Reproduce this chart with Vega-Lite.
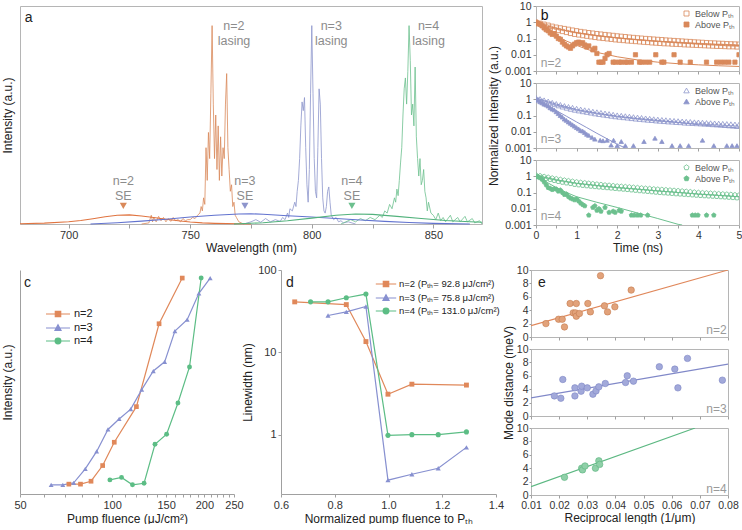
{
"$schema": "https://vega.github.io/schema/vega-lite/v6.json",
"padding": 0,
"background": "white",
"config": {
  "font": "Liberation Sans",
  "view": {"stroke": "#b5b5b5", "strokeWidth": 1},
  "axis": {"labelFontSize": 11, "labelColor": "#333", "titleFontSize": 12, "titleFontWeight": "normal", "titleColor": "#222", "domainColor": "#a0a0a0", "tickColor": "#a0a0a0", "grid": false, "tickSize": 3, "labelPadding": 2, "labelFlush": false, "labelOverlap": false},
  "legend": {"padding": 0}
},
"datasets": {
  "las": [
    {"n":"2","w":730,"i":0},{"n":"2","w":733,"i":0.005},{"n":"2","w":734,"i":0.04},{"n":"2","w":734.5,"i":0.01},{"n":"2","w":735,"i":0.03},{"n":"2","w":736,"i":0.01},{"n":"2","w":737,"i":0.035},{"n":"2","w":738,"i":0.015},{"n":"2","w":739,"i":0.03},{"n":"2","w":740,"i":0.01},{"n":"2","w":741,"i":0.025},{"n":"2","w":742,"i":0.012},{"n":"2","w":743,"i":0.03},{"n":"2","w":744,"i":0.015},{"n":"2","w":745,"i":0.02},{"n":"2","w":746,"i":0.01},{"n":"2","w":747,"i":0.025},{"n":"2","w":748,"i":0.015},{"n":"2","w":749,"i":0.02},{"n":"2","w":750,"i":0.02},{"n":"2","w":751,"i":0.03},{"n":"2","w":752,"i":0.025},{"n":"2","w":753,"i":0.04},{"n":"2","w":754,"i":0.05},{"n":"2","w":754.5,"i":0.08},{"n":"2","w":755,"i":0.06},{"n":"2","w":755.5,"i":0.12},{"n":"2","w":756,"i":0.09},{"n":"2","w":756.5,"i":0.35},{"n":"2","w":757,"i":0.2},{"n":"2","w":757.5,"i":0.42},{"n":"2","w":758,"i":0.3},{"n":"2","w":758.5,"i":0.6},{"n":"2","w":759,"i":0.91},{"n":"2","w":759.5,"i":0.55},{"n":"2","w":760,"i":0.3},{"n":"2","w":760.5,"i":0.5},{"n":"2","w":761,"i":0.25},{"n":"2","w":761.5,"i":0.45},{"n":"2","w":762,"i":0.2},{"n":"2","w":762.5,"i":0.4},{"n":"2","w":763,"i":0.22},{"n":"2","w":763.5,"i":0.35},{"n":"2","w":764,"i":0.3},{"n":"2","w":764.5,"i":0.55},{"n":"2","w":765,"i":0.69},{"n":"2","w":765.5,"i":0.35},{"n":"2","w":766,"i":0.25},{"n":"2","w":766.5,"i":0.15},{"n":"2","w":767,"i":0.18},{"n":"2","w":767.5,"i":0.08},{"n":"2","w":768,"i":0.1},{"n":"2","w":768.5,"i":0.04},{"n":"2","w":769,"i":0.03},{"n":"2","w":770,"i":0.01},{"n":"2","w":771,"i":0.005},{"n":"2","w":772,"i":0},
    {"n":"3","w":772,"i":0},{"n":"3","w":775,"i":0.01},{"n":"3","w":777,"i":0.02},{"n":"3","w":779,"i":0.008},{"n":"3","w":781,"i":0.025},{"n":"3","w":783,"i":0.01},{"n":"3","w":785,"i":0.02},{"n":"3","w":787,"i":0.012},{"n":"3","w":788,"i":0.03},{"n":"3","w":789,"i":0.02},{"n":"3","w":790,"i":0.05},{"n":"3","w":790.5,"i":0.03},{"n":"3","w":791,"i":0.07},{"n":"3","w":792,"i":0.06},{"n":"3","w":793,"i":0.1},{"n":"3","w":793.5,"i":0.08},{"n":"3","w":794,"i":0.15},{"n":"3","w":794.5,"i":0.2},{"n":"3","w":795,"i":0.3},{"n":"3","w":795.5,"i":0.45},{"n":"3","w":796,"i":0.56},{"n":"3","w":796.5,"i":0.52},{"n":"3","w":797,"i":0.58},{"n":"3","w":797.5,"i":0.35},{"n":"3","w":798,"i":0.18},{"n":"3","w":798.5,"i":0.1},{"n":"3","w":799,"i":0.25},{"n":"3","w":799.5,"i":0.6},{"n":"3","w":800,"i":0.91},{"n":"3","w":800.5,"i":0.6},{"n":"3","w":801,"i":0.3},{"n":"3","w":801.5,"i":0.15},{"n":"3","w":802,"i":0.12},{"n":"3","w":802.5,"i":0.35},{"n":"3","w":803,"i":0.62},{"n":"3","w":803.5,"i":0.55},{"n":"3","w":804,"i":0.3},{"n":"3","w":804.5,"i":0.12},{"n":"3","w":805,"i":0.06},{"n":"3","w":805.5,"i":0.05},{"n":"3","w":806,"i":0.08},{"n":"3","w":806.5,"i":0.15},{"n":"3","w":807,"i":0.17},{"n":"3","w":807.5,"i":0.1},{"n":"3","w":808,"i":0.04},{"n":"3","w":809,"i":0.02},{"n":"3","w":810,"i":0.03},{"n":"3","w":811,"i":0.01},{"n":"3","w":812,"i":0.015},{"n":"3","w":813,"i":0.005},{"n":"3","w":815,"i":0.01},{"n":"3","w":818,"i":0},
    {"n":"4","w":812,"i":0},{"n":"4","w":814,"i":0.01},{"n":"4","w":816,"i":0.02},{"n":"4","w":818,"i":0.01},{"n":"4","w":820,"i":0.025},{"n":"4","w":822,"i":0.015},{"n":"4","w":824,"i":0.03},{"n":"4","w":826,"i":0.02},{"n":"4","w":828,"i":0.04},{"n":"4","w":829,"i":0.03},{"n":"4","w":830,"i":0.06},{"n":"4","w":831,"i":0.05},{"n":"4","w":832,"i":0.09},{"n":"4","w":833,"i":0.07},{"n":"4","w":834,"i":0.12},{"n":"4","w":834.5,"i":0.1},{"n":"4","w":835,"i":0.16},{"n":"4","w":835.5,"i":0.13},{"n":"4","w":836,"i":0.2},{"n":"4","w":836.5,"i":0.28},{"n":"4","w":837,"i":0.35},{"n":"4","w":837.5,"i":0.5},{"n":"4","w":838,"i":0.62},{"n":"4","w":838.5,"i":0.67},{"n":"4","w":839,"i":0.55},{"n":"4","w":839.5,"i":0.7},{"n":"4","w":840,"i":0.91},{"n":"4","w":840.5,"i":0.75},{"n":"4","w":841,"i":0.5},{"n":"4","w":841.5,"i":0.55},{"n":"4","w":842,"i":0.45},{"n":"4","w":842.5,"i":0.72},{"n":"4","w":843,"i":0.4},{"n":"4","w":843.5,"i":0.3},{"n":"4","w":844,"i":0.22},{"n":"4","w":844.5,"i":0.3},{"n":"4","w":845,"i":0.18},{"n":"4","w":845.5,"i":0.2},{"n":"4","w":846,"i":0.25},{"n":"4","w":846.5,"i":0.15},{"n":"4","w":847,"i":0.12},{"n":"4","w":847.5,"i":0.06},{"n":"4","w":848,"i":0.1},{"n":"4","w":849,"i":0.05},{"n":"4","w":850,"i":0.04},{"n":"4","w":851,"i":0.02},{"n":"4","w":852,"i":0.05},{"n":"4","w":853,"i":0.015},{"n":"4","w":854,"i":0.03},{"n":"4","w":855,"i":0.01},{"n":"4","w":857,"i":0.04},{"n":"4","w":858,"i":0.01},{"n":"4","w":860,"i":0.03},{"n":"4","w":861,"i":0.01},{"n":"4","w":863,"i":0.035},{"n":"4","w":864,"i":0.01},{"n":"4","w":866,"i":0.025},{"n":"4","w":867,"i":0.005},{"n":"4","w":869,"i":0.015},{"n":"4","w":870,"i":0}
  ],
  "se": [
    {"n":"2","w":680,"i":0.001},{"n":"2","w":690,"i":0.004},{"n":"2","w":700,"i":0.01},{"n":"2","w":705,"i":0.016},{"n":"2","w":710,"i":0.024},{"n":"2","w":715,"i":0.033},{"n":"2","w":720,"i":0.04},{"n":"2","w":725,"i":0.042},{"n":"2","w":730,"i":0.037},{"n":"2","w":735,"i":0.03},{"n":"2","w":740,"i":0.022},{"n":"2","w":745,"i":0.015},{"n":"2","w":750,"i":0.009},{"n":"2","w":755,"i":0.005},{"n":"2","w":760,"i":0.003},{"n":"2","w":770,"i":0.001},{"n":"2","w":775,"i":0},
    {"n":"3","w":709,"i":0},{"n":"3","w":720,"i":0.006},{"n":"3","w":730,"i":0.013},{"n":"3","w":740,"i":0.022},{"n":"3","w":750,"i":0.032},{"n":"3","w":760,"i":0.04},{"n":"3","w":770,"i":0.046},{"n":"3","w":775,"i":0.047},{"n":"3","w":780,"i":0.045},{"n":"3","w":790,"i":0.038},{"n":"3","w":800,"i":0.032},{"n":"3","w":810,"i":0.025},{"n":"3","w":820,"i":0.018},{"n":"3","w":830,"i":0.012},{"n":"3","w":840,"i":0.007},{"n":"3","w":850,"i":0.003},{"n":"3","w":865,"i":0},
    {"n":"4","w":768,"i":0},{"n":"4","w":780,"i":0.006},{"n":"4","w":790,"i":0.015},{"n":"4","w":800,"i":0.027},{"n":"4","w":810,"i":0.04},{"n":"4","w":818,"i":0.046},{"n":"4","w":825,"i":0.044},{"n":"4","w":835,"i":0.035},{"n":"4","w":845,"i":0.025},{"n":"4","w":855,"i":0.016},{"n":"4","w":865,"i":0.01},{"n":"4","w":870,"i":0.008}
  ],
  "triA": [{"n":"2","w":722.5,"i":0.083},{"n":"3","w":772.5,"i":0.083},{"n":"4","w":816.5,"i":0.083}],
  "annA": [
    {"w":768,"i":0.908,"t":"n=2\nlasing"},{"w":808,"i":0.908,"t":"n=3\nlasing"},{"w":848,"i":0.908,"t":"n=4\nlasing"},
    {"w":722.5,"i":0.197,"t":"n=2\nSE"},{"w":772.5,"i":0.197,"t":"n=3\nSE"},{"w":816.5,"i":0.197,"t":"n=4\nSE"}
  ],
  "b2": [
    {"s":"B","t":0,"v":1},{"s":"B","t":0.1,"v":0.87},{"s":"B","t":0.2,"v":0.76},{"s":"B","t":0.3,"v":0.66},{"s":"B","t":0.4,"v":0.57},{"s":"B","t":0.5,"v":0.5},{"s":"B","t":0.6,"v":0.45},{"s":"B","t":0.7,"v":0.41},{"s":"B","t":0.8,"v":0.37},{"s":"B","t":0.9,"v":0.33},{"s":"B","t":1,"v":0.3},{"s":"B","t":1.1,"v":0.27},{"s":"B","t":1.2,"v":0.25},{"s":"B","t":1.3,"v":0.23},{"s":"B","t":1.4,"v":0.215},{"s":"B","t":1.5,"v":0.2},{"s":"B","t":1.6,"v":0.187},{"s":"B","t":1.7,"v":0.175},{"s":"B","t":1.8,"v":0.165},{"s":"B","t":1.9,"v":0.155},{"s":"B","t":2,"v":0.145},{"s":"B","t":2.1,"v":0.137},{"s":"B","t":2.2,"v":0.13},{"s":"B","t":2.3,"v":0.122},{"s":"B","t":2.4,"v":0.116},{"s":"B","t":2.5,"v":0.11},{"s":"B","t":2.6,"v":0.105},{"s":"B","t":2.7,"v":0.1},{"s":"B","t":2.8,"v":0.096},{"s":"B","t":2.9,"v":0.092},{"s":"B","t":3,"v":0.088},{"s":"B","t":3.1,"v":0.085},{"s":"B","t":3.2,"v":0.081},{"s":"B","t":3.3,"v":0.078},{"s":"B","t":3.4,"v":0.075},{"s":"B","t":3.5,"v":0.072},{"s":"B","t":3.6,"v":0.07},{"s":"B","t":3.7,"v":0.067},{"s":"B","t":3.8,"v":0.065},{"s":"B","t":3.9,"v":0.062},{"s":"B","t":4,"v":0.06},{"s":"B","t":4.1,"v":0.058},{"s":"B","t":4.2,"v":0.056},{"s":"B","t":4.3,"v":0.054},{"s":"B","t":4.4,"v":0.053},{"s":"B","t":4.5,"v":0.051},{"s":"B","t":4.6,"v":0.05},{"s":"B","t":4.7,"v":0.048},{"s":"B","t":4.8,"v":0.047},{"s":"B","t":4.9,"v":0.046},{"s":"B","t":5,"v":0.045},
    {"s":"B","t":0.05,"v":0.8},{"s":"B","t":0.15,"v":0.65},{"s":"B","t":0.25,"v":0.52},{"s":"B","t":0.35,"v":0.43},{"s":"B","t":0.45,"v":0.36},{"s":"B","t":0.55,"v":0.31},{"s":"B","t":0.65,"v":0.27},{"s":"B","t":0.75,"v":0.235},{"s":"B","t":0.85,"v":0.205},{"s":"B","t":0.95,"v":0.18},{"s":"B","t":1.05,"v":0.165},{"s":"B","t":1.15,"v":0.15},{"s":"B","t":1.25,"v":0.138},{"s":"B","t":1.35,"v":0.127},{"s":"B","t":1.45,"v":0.116},{"s":"B","t":1.55,"v":0.108},{"s":"B","t":1.65,"v":0.101},{"s":"B","t":1.75,"v":0.095},{"s":"B","t":1.85,"v":0.089},{"s":"B","t":1.95,"v":0.083},{"s":"B","t":2.05,"v":0.079},{"s":"B","t":2.15,"v":0.075},{"s":"B","t":2.25,"v":0.071},{"s":"B","t":2.35,"v":0.068},{"s":"B","t":2.45,"v":0.065},{"s":"B","t":2.55,"v":0.062},{"s":"B","t":2.65,"v":0.059},{"s":"B","t":2.75,"v":0.057},{"s":"B","t":2.85,"v":0.054},{"s":"B","t":2.95,"v":0.052},{"s":"B","t":3.05,"v":0.05},{"s":"B","t":3.15,"v":0.048},{"s":"B","t":3.25,"v":0.047},{"s":"B","t":3.35,"v":0.045},{"s":"B","t":3.45,"v":0.044},{"s":"B","t":3.55,"v":0.043},{"s":"B","t":3.65,"v":0.041},{"s":"B","t":3.75,"v":0.04},{"s":"B","t":3.85,"v":0.039},{"s":"B","t":3.95,"v":0.038},{"s":"B","t":4.05,"v":0.037},{"s":"B","t":4.15,"v":0.036},{"s":"B","t":4.25,"v":0.035},{"s":"B","t":4.35,"v":0.034},{"s":"B","t":4.45,"v":0.033},{"s":"B","t":4.55,"v":0.033},{"s":"B","t":4.65,"v":0.032},{"s":"B","t":4.75,"v":0.031},{"s":"B","t":4.85,"v":0.031},{"s":"B","t":4.95,"v":0.03},
    {"s":"A","t":0,"v":1},{"s":"A","t":0.05,"v":0.85},{"s":"A","t":0.1,"v":0.75},{"s":"A","t":0.15,"v":0.6},{"s":"A","t":0.2,"v":0.45},{"s":"A","t":0.25,"v":0.35},{"s":"A","t":0.3,"v":0.3},{"s":"A","t":0.35,"v":0.22},{"s":"A","t":0.4,"v":0.18},{"s":"A","t":0.45,"v":0.2},{"s":"A","t":0.5,"v":0.14},{"s":"A","t":0.55,"v":0.1},{"s":"A","t":0.6,"v":0.09},{"s":"A","t":0.65,"v":0.06},{"s":"A","t":0.7,"v":0.045},{"s":"A","t":0.75,"v":0.035},{"s":"A","t":0.8,"v":0.03},{"s":"A","t":0.85,"v":0.025},{"s":"A","t":0.9,"v":0.035},{"s":"A","t":0.95,"v":0.045},{"s":"A","t":1,"v":0.055},{"s":"A","t":1.05,"v":0.06},{"s":"A","t":1.1,"v":0.05},{"s":"A","t":1.15,"v":0.055},{"s":"A","t":1.2,"v":0.04},{"s":"A","t":1.25,"v":0.03},{"s":"A","t":1.3,"v":0.035},{"s":"A","t":1.4,"v":0.02},{"s":"A","t":1.45,"v":0.025},{"s":"A","t":1.5,"v":0.012},{"s":"A","t":1.55,"v":0.0035},{"s":"A","t":1.6,"v":0.0035},{"s":"A","t":1.65,"v":0.0035},{"s":"A","t":1.7,"v":0.006},{"s":"A","t":1.75,"v":0.01},{"s":"A","t":1.8,"v":0.012},{"s":"A","t":1.9,"v":0.0035},{"s":"A","t":1.95,"v":0.0035},{"s":"A","t":2.05,"v":0.0035},{"s":"A","t":2.1,"v":0.0035},{"s":"A","t":2.2,"v":0.0035},{"s":"A","t":2.25,"v":0.0035},{"s":"A","t":2.35,"v":0.0035},{"s":"A","t":2.45,"v":0.01},{"s":"A","t":2.55,"v":0.0035},{"s":"A","t":2.6,"v":0.0035},{"s":"A","t":2.7,"v":0.0035},{"s":"A","t":2.8,"v":0.0035},{"s":"A","t":2.95,"v":0.01},{"s":"A","t":3.1,"v":0.0035},{"s":"A","t":3.15,"v":0.0035},{"s":"A","t":3.4,"v":0.01},{"s":"A","t":3.55,"v":0.0035},{"s":"A","t":3.8,"v":0.0035},{"s":"A","t":4.2,"v":0.0035},{"s":"A","t":4.45,"v":0.0035},{"s":"A","t":4.55,"v":0.0035},{"s":"A","t":4.65,"v":0.0035},{"s":"A","t":4.75,"v":0.0035},{"s":"A","t":4.9,"v":0.0035},{"s":"A","t":5,"v":0.01}
  ],
  "b3": [
    {"s":"B","t":0,"v":1.3},{"s":"B","t":0.1,"v":1.1},{"s":"B","t":0.2,"v":0.92},{"s":"B","t":0.3,"v":0.78},{"s":"B","t":0.4,"v":0.65},{"s":"B","t":0.5,"v":0.55},{"s":"B","t":0.6,"v":0.48},{"s":"B","t":0.7,"v":0.41},{"s":"B","t":0.8,"v":0.36},{"s":"B","t":0.9,"v":0.32},{"s":"B","t":1,"v":0.28},{"s":"B","t":1.1,"v":0.25},{"s":"B","t":1.2,"v":0.225},{"s":"B","t":1.3,"v":0.205},{"s":"B","t":1.4,"v":0.185},{"s":"B","t":1.5,"v":0.17},{"s":"B","t":1.6,"v":0.156},{"s":"B","t":1.7,"v":0.143},{"s":"B","t":1.8,"v":0.131},{"s":"B","t":1.9,"v":0.12},{"s":"B","t":2,"v":0.11},{"s":"B","t":2.1,"v":0.103},{"s":"B","t":2.2,"v":0.097},{"s":"B","t":2.3,"v":0.091},{"s":"B","t":2.4,"v":0.085},{"s":"B","t":2.5,"v":0.08},{"s":"B","t":2.6,"v":0.076},{"s":"B","t":2.7,"v":0.071},{"s":"B","t":2.8,"v":0.067},{"s":"B","t":2.9,"v":0.063},{"s":"B","t":3,"v":0.06},{"s":"B","t":3.1,"v":0.057},{"s":"B","t":3.2,"v":0.055},{"s":"B","t":3.3,"v":0.052},{"s":"B","t":3.4,"v":0.05},{"s":"B","t":3.5,"v":0.048},{"s":"B","t":3.6,"v":0.046},{"s":"B","t":3.7,"v":0.044},{"s":"B","t":3.8,"v":0.043},{"s":"B","t":3.9,"v":0.041},{"s":"B","t":4,"v":0.04},{"s":"B","t":4.1,"v":0.039},{"s":"B","t":4.2,"v":0.037},{"s":"B","t":4.3,"v":0.036},{"s":"B","t":4.4,"v":0.035},{"s":"B","t":4.5,"v":0.034},{"s":"B","t":4.6,"v":0.033},{"s":"B","t":4.7,"v":0.032},{"s":"B","t":4.8,"v":0.031},{"s":"B","t":4.9,"v":0.03},{"s":"B","t":5,"v":0.029},
    {"s":"B","t":0.05,"v":1.0},{"s":"B","t":0.15,"v":0.82},{"s":"B","t":0.25,"v":0.67},{"s":"B","t":0.35,"v":0.56},{"s":"B","t":0.45,"v":0.46},{"s":"B","t":0.55,"v":0.39},{"s":"B","t":0.65,"v":0.33},{"s":"B","t":0.75,"v":0.28},{"s":"B","t":0.85,"v":0.24},{"s":"B","t":0.95,"v":0.21},{"s":"B","t":1.05,"v":0.19},{"s":"B","t":1.15,"v":0.17},{"s":"B","t":1.25,"v":0.155},{"s":"B","t":1.35,"v":0.14},{"s":"B","t":1.45,"v":0.126},{"s":"B","t":1.55,"v":0.115},{"s":"B","t":1.65,"v":0.106},{"s":"B","t":1.75,"v":0.098},{"s":"B","t":1.85,"v":0.09},{"s":"B","t":1.95,"v":0.083},{"s":"B","t":2.05,"v":0.078},{"s":"B","t":2.15,"v":0.073},{"s":"B","t":2.25,"v":0.069},{"s":"B","t":2.35,"v":0.064},{"s":"B","t":2.45,"v":0.06},{"s":"B","t":2.55,"v":0.057},{"s":"B","t":2.65,"v":0.054},{"s":"B","t":2.75,"v":0.051},{"s":"B","t":2.85,"v":0.049},{"s":"B","t":2.95,"v":0.046},{"s":"B","t":3.05,"v":0.044},{"s":"B","t":3.15,"v":0.042},{"s":"B","t":3.25,"v":0.04},{"s":"B","t":3.35,"v":0.039},{"s":"B","t":3.45,"v":0.037},{"s":"B","t":3.55,"v":0.036},{"s":"B","t":3.65,"v":0.034},{"s":"B","t":3.75,"v":0.033},{"s":"B","t":3.85,"v":0.032},{"s":"B","t":3.95,"v":0.031},{"s":"B","t":4.05,"v":0.03},{"s":"B","t":4.15,"v":0.029},{"s":"B","t":4.25,"v":0.028},{"s":"B","t":4.35,"v":0.027},{"s":"B","t":4.45,"v":0.026},{"s":"B","t":4.55,"v":0.025},{"s":"B","t":4.65,"v":0.024},{"s":"B","t":4.75,"v":0.023},{"s":"B","t":4.85,"v":0.022},{"s":"B","t":4.95,"v":0.021},
    {"s":"A","t":0,"v":1},{"s":"A","t":0.05,"v":0.85},{"s":"A","t":0.1,"v":0.7},{"s":"A","t":0.15,"v":0.6},{"s":"A","t":0.2,"v":0.5},{"s":"A","t":0.25,"v":0.45},{"s":"A","t":0.3,"v":0.38},{"s":"A","t":0.35,"v":0.3},{"s":"A","t":0.4,"v":0.25},{"s":"A","t":0.45,"v":0.22},{"s":"A","t":0.5,"v":0.17},{"s":"A","t":0.55,"v":0.13},{"s":"A","t":0.6,"v":0.1},{"s":"A","t":0.65,"v":0.08},{"s":"A","t":0.7,"v":0.06},{"s":"A","t":0.75,"v":0.05},{"s":"A","t":0.8,"v":0.04},{"s":"A","t":0.85,"v":0.033},{"s":"A","t":0.9,"v":0.027},{"s":"A","t":0.95,"v":0.022},{"s":"A","t":1,"v":0.018},{"s":"A","t":1.05,"v":0.015},{"s":"A","t":1.1,"v":0.012},{"s":"A","t":1.15,"v":0.011},{"s":"A","t":1.2,"v":0.009},{"s":"A","t":1.25,"v":0.007},{"s":"A","t":1.3,"v":0.006},{"s":"A","t":1.38,"v":0.0045},{"s":"A","t":1.45,"v":0.0035},{"s":"A","t":1.58,"v":0.003},{"s":"A","t":1.65,"v":0.0028},{"s":"A","t":1.75,"v":0.003},{"s":"A","t":1.85,"v":0.0015},{"s":"A","t":1.91,"v":0.003},{"s":"A","t":2,"v":0.0014},{"s":"A","t":2.1,"v":0.0025},{"s":"A","t":2.2,"v":0.0014},{"s":"A","t":2.4,"v":0.0014},{"s":"A","t":2.66,"v":0.0025},{"s":"A","t":2.93,"v":0.004},{"s":"A","t":3.1,"v":0.0025},{"s":"A","t":3.35,"v":0.0014},{"s":"A","t":3.55,"v":0.0014},{"s":"A","t":3.76,"v":0.0014},{"s":"A","t":4.1,"v":0.003},{"s":"A","t":4.38,"v":0.0014},{"s":"A","t":4.7,"v":0.0014},{"s":"A","t":4.83,"v":0.0014},{"s":"A","t":4.95,"v":0.0014}
  ],
  "b4": [
    {"s":"B","t":0,"v":1.2},{"s":"B","t":0.1,"v":1.08},{"s":"B","t":0.2,"v":0.97},{"s":"B","t":0.3,"v":0.87},{"s":"B","t":0.4,"v":0.78},{"s":"B","t":0.5,"v":0.7},{"s":"B","t":0.6,"v":0.64},{"s":"B","t":0.7,"v":0.58},{"s":"B","t":0.8,"v":0.53},{"s":"B","t":0.9,"v":0.49},{"s":"B","t":1,"v":0.45},{"s":"B","t":1.1,"v":0.42},{"s":"B","t":1.2,"v":0.395},{"s":"B","t":1.3,"v":0.37},{"s":"B","t":1.4,"v":0.35},{"s":"B","t":1.5,"v":0.33},{"s":"B","t":1.6,"v":0.31},{"s":"B","t":1.7,"v":0.29},{"s":"B","t":1.8,"v":0.28},{"s":"B","t":1.9,"v":0.265},{"s":"B","t":2,"v":0.25},{"s":"B","t":2.1,"v":0.24},{"s":"B","t":2.2,"v":0.23},{"s":"B","t":2.3,"v":0.22},{"s":"B","t":2.4,"v":0.21},{"s":"B","t":2.5,"v":0.2},{"s":"B","t":2.6,"v":0.19},{"s":"B","t":2.7,"v":0.182},{"s":"B","t":2.8,"v":0.175},{"s":"B","t":2.9,"v":0.167},{"s":"B","t":3,"v":0.16},{"s":"B","t":3.1,"v":0.154},{"s":"B","t":3.2,"v":0.148},{"s":"B","t":3.3,"v":0.142},{"s":"B","t":3.4,"v":0.136},{"s":"B","t":3.5,"v":0.13},{"s":"B","t":3.6,"v":0.124},{"s":"B","t":3.7,"v":0.118},{"s":"B","t":3.8,"v":0.112},{"s":"B","t":3.9,"v":0.106},{"s":"B","t":4,"v":0.1},{"s":"B","t":4.1,"v":0.097},{"s":"B","t":4.2,"v":0.094},{"s":"B","t":4.3,"v":0.091},{"s":"B","t":4.4,"v":0.088},{"s":"B","t":4.5,"v":0.085},{"s":"B","t":4.6,"v":0.082},{"s":"B","t":4.7,"v":0.079},{"s":"B","t":4.8,"v":0.076},{"s":"B","t":4.9,"v":0.073},{"s":"B","t":5,"v":0.07},
    {"s":"B","t":0.05,"v":0.95},{"s":"B","t":0.15,"v":0.82},{"s":"B","t":0.25,"v":0.71},{"s":"B","t":0.35,"v":0.62},{"s":"B","t":0.45,"v":0.54},{"s":"B","t":0.55,"v":0.47},{"s":"B","t":0.65,"v":0.42},{"s":"B","t":0.75,"v":0.38},{"s":"B","t":0.85,"v":0.35},{"s":"B","t":0.95,"v":0.31},{"s":"B","t":1.05,"v":0.29},{"s":"B","t":1.15,"v":0.27},{"s":"B","t":1.25,"v":0.255},{"s":"B","t":1.35,"v":0.24},{"s":"B","t":1.45,"v":0.227},{"s":"B","t":1.55,"v":0.215},{"s":"B","t":1.65,"v":0.205},{"s":"B","t":1.75,"v":0.195},{"s":"B","t":1.85,"v":0.185},{"s":"B","t":1.95,"v":0.175},{"s":"B","t":2.05,"v":0.166},{"s":"B","t":2.15,"v":0.158},{"s":"B","t":2.25,"v":0.15},{"s":"B","t":2.35,"v":0.142},{"s":"B","t":2.45,"v":0.134},{"s":"B","t":2.55,"v":0.127},{"s":"B","t":2.65,"v":0.121},{"s":"B","t":2.75,"v":0.115},{"s":"B","t":2.85,"v":0.109},{"s":"B","t":2.95,"v":0.103},{"s":"B","t":3.05,"v":0.098},{"s":"B","t":3.15,"v":0.094},{"s":"B","t":3.25,"v":0.09},{"s":"B","t":3.35,"v":0.086},{"s":"B","t":3.45,"v":0.082},{"s":"B","t":3.55,"v":0.079},{"s":"B","t":3.65,"v":0.076},{"s":"B","t":3.75,"v":0.073},{"s":"B","t":3.85,"v":0.07},{"s":"B","t":3.95,"v":0.067},{"s":"B","t":4.05,"v":0.064},{"s":"B","t":4.15,"v":0.062},{"s":"B","t":4.25,"v":0.06},{"s":"B","t":4.35,"v":0.058},{"s":"B","t":4.45,"v":0.056},{"s":"B","t":4.55,"v":0.054},{"s":"B","t":4.65,"v":0.052},{"s":"B","t":4.75,"v":0.05},{"s":"B","t":4.85,"v":0.048},{"s":"B","t":4.95,"v":0.046},
    {"s":"A","t":0,"v":1},{"s":"A","t":0.05,"v":0.9},{"s":"A","t":0.1,"v":0.8},{"s":"A","t":0.15,"v":0.65},{"s":"A","t":0.2,"v":0.45},{"s":"A","t":0.25,"v":0.3},{"s":"A","t":0.3,"v":0.2},{"s":"A","t":0.35,"v":0.18},{"s":"A","t":0.4,"v":0.15},{"s":"A","t":0.45,"v":0.17},{"s":"A","t":0.5,"v":0.16},{"s":"A","t":0.55,"v":0.12},{"s":"A","t":0.6,"v":0.14},{"s":"A","t":0.65,"v":0.1},{"s":"A","t":0.7,"v":0.075},{"s":"A","t":0.75,"v":0.08},{"s":"A","t":0.8,"v":0.055},{"s":"A","t":0.85,"v":0.045},{"s":"A","t":0.9,"v":0.04},{"s":"A","t":0.95,"v":0.035},{"s":"A","t":1,"v":0.04},{"s":"A","t":1.05,"v":0.03},{"s":"A","t":1.1,"v":0.022},{"s":"A","t":1.15,"v":0.018},{"s":"A","t":1.2,"v":0.015},{"s":"A","t":1.3,"v":0.004},{"s":"A","t":1.4,"v":0.012},{"s":"A","t":1.45,"v":0.015},{"s":"A","t":1.5,"v":0.008},{"s":"A","t":1.55,"v":0.01},{"s":"A","t":1.6,"v":0.007},{"s":"A","t":1.7,"v":0.012},{"s":"A","t":1.8,"v":0.006},{"s":"A","t":1.9,"v":0.007},{"s":"A","t":1.95,"v":0.006},{"s":"A","t":2.05,"v":0.008},{"s":"A","t":2.1,"v":0.007},{"s":"A","t":2.35,"v":0.004},{"s":"A","t":2.42,"v":0.004},{"s":"A","t":2.5,"v":0.004},{"s":"A","t":2.58,"v":0.004},{"s":"A","t":2.75,"v":0.004},{"s":"A","t":3.85,"v":0.004},{"s":"A","t":3.92,"v":0.004},{"s":"A","t":3.99,"v":0.004},{"s":"A","t":4.2,"v":0.004},{"s":"A","t":4.38,"v":0.004}
  ],
  "f2": [
    {"s":"B","t":0,"v":0.95},{"s":"B","t":0.25,"v":0.6},{"s":"B","t":0.5,"v":0.42},{"s":"B","t":0.75,"v":0.3},{"s":"B","t":1,"v":0.23},{"s":"B","t":1.5,"v":0.15},{"s":"B","t":2,"v":0.11},{"s":"B","t":2.5,"v":0.085},{"s":"B","t":3,"v":0.068},{"s":"B","t":3.5,"v":0.057},{"s":"B","t":4,"v":0.048},{"s":"B","t":4.5,"v":0.042},{"s":"B","t":5,"v":0.037},
    {"s":"A","t":0,"v":1},{"s":"A","t":0.25,"v":0.4},{"s":"A","t":0.5,"v":0.15},{"s":"A","t":0.75,"v":0.07},{"s":"A","t":1,"v":0.038},{"s":"A","t":1.25,"v":0.022},{"s":"A","t":1.5,"v":0.014},{"s":"A","t":2,"v":0.0075},{"s":"A","t":2.5,"v":0.0048},{"s":"A","t":3,"v":0.0035},{"s":"A","t":3.5,"v":0.0028},{"s":"A","t":4,"v":0.0024},{"s":"A","t":4.5,"v":0.0021},{"s":"A","t":5,"v":0.0019}
  ],
  "f3": [
    {"s":"B","t":0,"v":1.2},{"s":"B","t":0.25,"v":0.75},{"s":"B","t":0.5,"v":0.5},{"s":"B","t":1,"v":0.23},{"s":"B","t":1.5,"v":0.14},{"s":"B","t":2,"v":0.09},{"s":"B","t":2.5,"v":0.065},{"s":"B","t":3,"v":0.05},{"s":"B","t":3.5,"v":0.038},{"s":"B","t":4,"v":0.027},{"s":"B","t":4.5,"v":0.021},{"s":"B","t":5,"v":0.017},
    {"s":"A","t":0,"v":1},{"s":"A","t":0.25,"v":0.45},{"s":"A","t":0.5,"v":0.2},{"s":"A","t":0.75,"v":0.09},{"s":"A","t":1,"v":0.04},{"s":"A","t":1.25,"v":0.018},{"s":"A","t":1.5,"v":0.008},{"s":"A","t":1.75,"v":0.0037},{"s":"A","t":2,"v":0.0017},{"s":"A","t":2.2,"v":0.001}
  ],
  "f4": [
    {"s":"B","t":0,"v":1.1},{"s":"B","t":0.5,"v":0.6},{"s":"B","t":1,"v":0.37},{"s":"B","t":1.5,"v":0.27},{"s":"B","t":2,"v":0.2},{"s":"B","t":2.5,"v":0.16},{"s":"B","t":3,"v":0.125},{"s":"B","t":3.5,"v":0.1},{"s":"B","t":4,"v":0.08},{"s":"B","t":4.5,"v":0.066},{"s":"B","t":5,"v":0.055},
    {"s":"A","t":0,"v":1},{"s":"A","t":0.25,"v":0.45},{"s":"A","t":0.5,"v":0.2},{"s":"A","t":0.75,"v":0.1},{"s":"A","t":1,"v":0.055},{"s":"A","t":1.5,"v":0.025},{"s":"A","t":2,"v":0.012},{"s":"A","t":2.5,"v":0.0055},{"s":"A","t":3,"v":0.0025},{"s":"A","t":3.5,"v":0.0011},{"s":"A","t":3.6,"v":0.001}
  ],
  "c": [
    {"n":"n=2","f":72.2,"i":0.044},{"n":"n=2","f":78.8,"i":0.044},{"n":"n=2","f":85.3,"i":0.057},{"n":"n=2","f":93.1,"i":0.127},{"n":"n=2","f":101.6,"i":0.231},{"n":"n=2","f":120,"i":0.39},{"n":"n=2","f":142.3,"i":0.76},{"n":"n=2","f":169.4,"i":0.964},
    {"n":"n=3","f":63.2,"i":0.041},{"n":"n=3","f":69,"i":0.041},{"n":"n=3","f":74.9,"i":0.05},{"n":"n=3","f":81.7,"i":0.112},{"n":"n=3","f":89,"i":0.19},{"n":"n=3","f":96.9,"i":0.288},{"n":"n=3","f":105.4,"i":0.335},{"n":"n=3","f":115,"i":0.379},{"n":"n=3","f":124.9,"i":0.466},{"n":"n=3","f":136.3,"i":0.549},{"n":"n=3","f":148.4,"i":0.59},{"n":"n=3","f":160.3,"i":0.727},{"n":"n=3","f":175.8,"i":0.778},{"n":"n=3","f":192,"i":0.896},{"n":"n=3","f":209,"i":0.964},
    {"n":"n=4","f":98.3,"i":0.063},{"n":"n=4","f":107.3,"i":0.074},{"n":"n=4","f":116.5,"i":0.041},{"n":"n=4","f":127.1,"i":0.048},{"n":"n=4","f":138,"i":0.222},{"n":"n=4","f":150.6,"i":0.267},{"n":"n=4","f":164,"i":0.406},{"n":"n=4","f":178.9,"i":0.567},{"n":"n=4","f":195.3,"i":0.964}
  ],
  "d": [
    {"n":"n=2","x":0.651,"w":41},{"n":"n=2","x":0.843,"w":38},{"n":"n=2","x":0.916,"w":13.5},{"n":"n=2","x":0.998,"w":3.1},{"n":"n=2","x":1.087,"w":4.1},{"n":"n=2","x":1.29,"w":4.0},
    {"n":"n=3","x":0.775,"w":28},{"n":"n=3","x":0.843,"w":31},{"n":"n=3","x":0.916,"w":36},{"n":"n=3","x":0.998,"w":0.28},{"n":"n=3","x":1.087,"w":0.33},{"n":"n=3","x":1.185,"w":0.39},{"n":"n=3","x":1.29,"w":0.7},
    {"n":"n=4","x":0.71,"w":41},{"n":"n=4","x":0.775,"w":41},{"n":"n=4","x":0.843,"w":46},{"n":"n=4","x":0.916,"w":51},{"n":"n=4","x":0.998,"w":0.98},{"n":"n=4","x":1.087,"w":1.0},{"n":"n=4","x":1.185,"w":1.0},{"n":"n=4","x":1.29,"w":1.08}
  ],
  "e2": [{"x":0.0153,"y":2.0},{"x":0.0198,"y":2.65},{"x":0.0211,"y":2.65},{"x":0.0219,"y":1.5},{"x":0.0239,"y":5.0},{"x":0.025,"y":3.6},{"x":0.0258,"y":3.6},{"x":0.0261,"y":5.0},{"x":0.0261,"y":3.1},{"x":0.0272,"y":3.5},{"x":0.0302,"y":5.0},{"x":0.0311,"y":3.75},{"x":0.0347,"y":9.15},{"x":0.0361,"y":4.65},{"x":0.0372,"y":3.75},{"x":0.0398,"y":4.5},{"x":0.0456,"y":7.0}],
  "e3": [{"x":0.0183,"y":3.0},{"x":0.0206,"y":2.65},{"x":0.0213,"y":5.45},{"x":0.0256,"y":4.2},{"x":0.0256,"y":3.0},{"x":0.0278,"y":3.7},{"x":0.028,"y":4.45},{"x":0.03,"y":4.2},{"x":0.032,"y":3.25},{"x":0.0331,"y":3.75},{"x":0.0341,"y":4.35},{"x":0.0364,"y":4.85},{"x":0.0436,"y":5.0},{"x":0.0442,"y":6.0},{"x":0.0464,"y":5.2},{"x":0.0556,"y":7.35},{"x":0.0611,"y":7.0},{"x":0.0622,"y":4.2},{"x":0.0656,"y":8.6},{"x":0.078,"y":5.35}],
  "e4": [{"x":0.0219,"y":2.64},{"x":0.028,"y":4.0},{"x":0.0283,"y":3.75},{"x":0.0292,"y":4.33},{"x":0.0329,"y":4.0},{"x":0.0341,"y":5.1},{"x":0.0344,"y":4.57}],
  "g2": [{"x":0.01,"y":1.7},{"x":0.08,"y":10.0}],
  "g3": [{"x":0.01,"y":2.7},{"x":0.08,"y":7.75}],
  "g4": [{"x":0.01,"y":1.25},{"x":0.0683,"y":10.0}]
},
"spacing": 10,
"resolve": {"scale": {"color": "independent", "fill": "independent", "shape": "independent", "stroke": "independent"}},
"vconcat": [
 {
  "spacing": 2,
  "resolve": {"scale": {"color": "independent", "fill": "independent", "shape": "independent", "stroke": "independent"}},
  "hconcat": [
   {
    "width": 462, "height": 218,
    "layer": [
     {"data": {"name": "las"}, "mark": {"type": "line", "strokeWidth": 0.8},
      "encoding": {
       "x": {"field": "w", "type": "quantitative", "scale": {"domain": [680, 870], "nice": false, "zero": false},
             "axis": {"title": "Wavelength (nm)", "values": [700,725,750,775,800,825,850], "tickCount": 20, "format": "d", "labelExpr": "datum.value % 50 == 0 ? datum.label : ''", "domain": false, "tickSize": 4, "labelPadding": 1, "titlePadding": 2}},
       "y": {"field": "i", "type": "quantitative", "scale": {"domain": [0, 1], "nice": false}, "axis": {"title": "Intensity (a.u.)", "labels": false, "ticks": false, "domain": false, "titlePadding": 6}},
       "color": {"field": "n", "type": "nominal", "scale": {"domain": ["2","3","4"], "range": ["#d9895a","#8d95cc","#6cc08e"]}, "legend": null}
      }},
     {"data": {"name": "se"}, "mark": {"type": "line", "strokeWidth": 1.1},
      "encoding": {
       "x": {"field": "w", "type": "quantitative"},
       "y": {"field": "i", "type": "quantitative"},
       "stroke": {"field": "n", "type": "nominal", "scale": {"domain": ["2","3","4"], "range": ["#e07440","#6273cf","#52b27c"]}, "legend": null}
      }},
     {"data": {"name": "triA"}, "mark": {"type": "point", "shape": "triangle-down", "filled": true, "size": 50, "opacity": 1},
      "encoding": {
       "x": {"field": "w", "type": "quantitative"},
       "y": {"field": "i", "type": "quantitative"},
       "color": {"field": "n", "type": "nominal", "legend": null}
      }},
     {"data": {"name": "annA"}, "mark": {"type": "text", "fontSize": 12.5, "color": "#8c8c8c", "lineBreak": "\n", "lineHeight": 14.5},
      "encoding": {
       "x": {"field": "w", "type": "quantitative"},
       "y": {"field": "i", "type": "quantitative"},
       "text": {"field": "t"}
      }},
     {"data": {"values": [{}]}, "mark": {"type": "text", "fontSize": 14, "align": "left", "color": "#222"},
      "encoding": {"x": {"datum": 682}, "y": {"datum": 0.945}, "text": {"value": "a"}}}
    ]
   },
   {
    "spacing": 12,
    "bounds": "flush",
    "resolve": {"scale": {"color": "independent", "fill": "independent", "shape": "independent", "stroke": "independent"}},
    "vconcat": [
     {
      "width": 203, "height": 65,
      "layer": [
       {"data": {"name": "f2"}, "mark": {"type": "line", "strokeWidth": 1, "color": "#d9895a", "clip": true},
        "encoding": {
         "x": {"field": "t", "type": "quantitative", "scale": {"domain": [0, 5], "nice": false}, "axis": {"title": null, "labels": false, "domain": false, "values": [0,0.5,1,1.5,2,2.5,3,3.5,4,4.5,5], "tickCount": 20}},
         "y": {"field": "v", "type": "quantitative", "scale": {"type": "log", "domain": [0.001, 10], "nice": false}, "axis": {"title": null, "domain": false, "values": [0.001,0.01,0.1,1,10], "tickCount": 10, "format": "~g", "labelFontSize": 10.5, "labelOverlap": false}},
         "detail": {"field": "s"}
        }},
       {"data": {"name": "b2"}, "mark": {"type": "point", "shape": "square", "filled": true, "size": 18, "strokeWidth": 0.8, "stroke": "#d9895a", "opacity": 1, "clip": true},
        "encoding": {
         "x": {"field": "t", "type": "quantitative"},
         "y": {"field": "v", "type": "quantitative"},
         "fill": {"field": "s", "type": "nominal", "scale": {"domain": ["B","A"], "range": ["transparent","#d9895a"]},
                  "legend": {"title": null, "orient": "top-right", "offset": 3, "labelFontSize": 9, "labelColor": "#555", "symbolType": "square", "symbolSize": 25, "symbolStrokeColor": "#d9895a", "symbolStrokeWidth": 0.8, "labelOffset": 4, "rowPadding": 1, "labelExpr": "datum.value == 'B' ? 'Below Pₜₕ' : 'Above Pₜₕ'",
                             "encode": {"symbols": {"update": {"stroke": {"value": "#d9895a"}, "strokeWidth": {"value": 0.8}}}}}}
        }},
       {"data": {"values": [{"t": 0.12, "v": 0.0031, "l": "n=2"}]}, "mark": {"type": "text", "align": "left", "fontSize": 12, "color": "#9a9a9a"},
        "encoding": {"x": {"field": "t", "type": "quantitative"}, "y": {"field": "v", "type": "quantitative"}, "text": {"field": "l"}}},
       {"data": {"values": [{}]}, "mark": {"type": "text", "align": "left", "fontSize": 14, "color": "#111"},
        "encoding": {"x": {"datum": 0.12}, "y": {"datum": 2.4}, "text": {"value": "b"}}}
      ]
     },
     {
      "width": 203, "height": 65,
      "layer": [
       {"data": {"name": "f3"}, "mark": {"type": "line", "strokeWidth": 1, "color": "#8d95cc", "clip": true},
        "encoding": {
         "x": {"field": "t", "type": "quantitative", "scale": {"domain": [0, 5], "nice": false}, "axis": {"title": null, "labels": false, "domain": false, "values": [0,0.5,1,1.5,2,2.5,3,3.5,4,4.5,5], "tickCount": 20}},
         "y": {"field": "v", "type": "quantitative", "scale": {"type": "log", "domain": [0.001, 10], "nice": false}, "axis": {"title": "Normalized Intensity (a.u.)", "titlePadding": 4, "domain": false, "values": [0.001,0.01,0.1,1,10], "tickCount": 10, "format": "~g", "labelFontSize": 10.5, "labelOverlap": false}},
         "detail": {"field": "s"}
        }},
       {"data": {"name": "b3"}, "mark": {"type": "point", "shape": "triangle-up", "filled": true, "size": 20, "strokeWidth": 0.8, "stroke": "#8d95cc", "opacity": 1, "clip": true},
        "encoding": {
         "x": {"field": "t", "type": "quantitative"},
         "y": {"field": "v", "type": "quantitative"},
         "fill": {"field": "s", "type": "nominal", "scale": {"domain": ["B","A"], "range": ["transparent","#8d95cc"]},
                  "legend": {"title": null, "orient": "top-right", "offset": 3, "labelFontSize": 9, "labelColor": "#555", "symbolType": "triangle-up", "symbolSize": 30, "symbolStrokeColor": "#8d95cc", "symbolStrokeWidth": 0.8, "labelOffset": 4, "rowPadding": 1, "labelExpr": "datum.value == 'B' ? 'Below Pₜₕ' : 'Above Pₜₕ'",
                             "encode": {"symbols": {"update": {"stroke": {"value": "#8d95cc"}, "strokeWidth": {"value": 0.8}}}}}}
        }},
       {"data": {"values": [{"t": 0.12, "v": 0.0035, "l": "n=3"}]}, "mark": {"type": "text", "align": "left", "fontSize": 12, "color": "#9a9a9a"},
        "encoding": {"x": {"field": "t", "type": "quantitative"}, "y": {"field": "v", "type": "quantitative"}, "text": {"field": "l"}}}
      ]
     },
     {
      "width": 203, "height": 65,
      "layer": [
       {"data": {"name": "f4"}, "mark": {"type": "line", "strokeWidth": 1, "color": "#6cc08e", "clip": true},
        "encoding": {
         "x": {"field": "t", "type": "quantitative", "scale": {"domain": [0, 5], "nice": false}, "axis": {"title": "Time (ns)", "titlePadding": 2, "domain": false, "values": [0,0.5,1,1.5,2,2.5,3,3.5,4,4.5,5], "tickCount": 20, "labelExpr": "datum.value % 1 == 0 ? format(datum.value, 'd') : ''", "labelFontSize": 10.5, "labelOverlap": false}},
         "y": {"field": "v", "type": "quantitative", "scale": {"type": "log", "domain": [0.001, 10], "nice": false}, "axis": {"title": null, "domain": false, "values": [0.001,0.01,0.1,1,10], "tickCount": 10, "format": "~g", "labelFontSize": 10.5, "labelOverlap": false}},
         "detail": {"field": "s"}
        }},
       {"data": {"name": "b4"}, "mark": {"type": "point", "shape": "M0,-1L0.951,-0.309L0.588,0.809L-0.588,0.809L-0.951,-0.309Z", "filled": true, "size": 22, "strokeWidth": 0.8, "stroke": "#6cc08e", "opacity": 1, "clip": true},
        "encoding": {
         "x": {"field": "t", "type": "quantitative"},
         "y": {"field": "v", "type": "quantitative"},
         "fill": {"field": "s", "type": "nominal", "scale": {"domain": ["B","A"], "range": ["transparent","#6cc08e"]},
                  "legend": {"title": null, "orient": "top-right", "offset": 3, "labelFontSize": 9, "labelColor": "#555", "symbolType": "M0,-1L0.951,-0.309L0.588,0.809L-0.588,0.809L-0.951,-0.309Z", "symbolSize": 30, "symbolStrokeColor": "#6cc08e", "symbolStrokeWidth": 0.8, "labelOffset": 4, "rowPadding": 1, "labelExpr": "datum.value == 'B' ? 'Below Pₜₕ' : 'Above Pₜₕ'",
                             "encode": {"symbols": {"update": {"stroke": {"value": "#6cc08e"}, "strokeWidth": {"value": 0.8}}}}}}
        }},
       {"data": {"values": [{"t": 0.12, "v": 0.0035, "l": "n=4"}]}, "mark": {"type": "text", "align": "left", "fontSize": 12, "color": "#9a9a9a"},
        "encoding": {"x": {"field": "t", "type": "quantitative"}, "y": {"field": "v", "type": "quantitative"}, "text": {"field": "l"}}}
      ]
     }
    ]
   }
  ]
 },
 {
  "spacing": -3,
  "resolve": {"scale": {"color": "independent", "fill": "independent", "shape": "independent", "stroke": "independent"}},
  "hconcat": [
   {
    "width": 214, "height": 224,
    "view": {"stroke": null},
    "layer": [
     {"data": {"name": "c"}, "mark": {"type": "line", "strokeWidth": 1.2},
      "encoding": {
       "x": {"field": "f", "type": "quantitative", "scale": {"type": "log", "domain": [50, 250], "nice": false},
             "axis": {"title": "Pump fluence (μJ/cm²)", "values": [50,60,70,80,90,100,110,120,130,140,150,160,170,180,190,200,210,220,230,240,250], "tickCount": 30, "labelExpr": "datum.value % 50 == 0 ? format(datum.value, 'd') : ''", "titlePadding": 3, "labelOverlap": false}},
       "y": {"field": "i", "type": "quantitative", "scale": {"domain": [0, 1], "nice": false}, "axis": {"title": "Intensity (a.u.)", "labels": false, "ticks": false, "titlePadding": 6}},
       "color": {"field": "n", "type": "nominal", "scale": {"domain": ["n=2","n=3","n=4"], "range": ["#e0885a","#8790d0","#5cbd85"]},
                 "legend": {"title": null, "orient": "none", "legendX": 31, "legendY": 37, "labelFontSize": 11, "labelColor": "#222", "symbolSize": 144, "labelOffset": 9, "rowPadding": 1,
                            "encode": {"symbols": {"update": {
                              "shape": {"signal": "datum.value == 'n=2' ? 'M-2,0H2M-0.45,-0.45H0.45V0.45H-0.45Z' : datum.value == 'n=3' ? 'M-2,0H2M0,-0.55L0.5,0.38H-0.5Z' : 'M-2,0H2M-0.48,0A0.48,0.48,0,1,0,0.48,0A0.48,0.48,0,1,0,-0.48,0Z'"},
                              "fill": {"signal": "datum.value == 'n=2' ? '#e0885a' : datum.value == 'n=3' ? '#8790d0' : '#5cbd85'"},
                              "stroke": {"signal": "datum.value == 'n=2' ? '#e0885a' : datum.value == 'n=3' ? '#8790d0' : '#5cbd85'"},
                              "strokeWidth": {"value": 1.2}, "size": {"value": 144}, "opacity": {"value": 1}}}}}}
      }},
     {"data": {"name": "c"}, "transform": [{"filter": "datum.n == 'n=2'"}], "mark": {"type": "point", "shape": "square", "filled": true, "size": 22, "opacity": 1, "color": "#e0885a"},
      "encoding": {"x": {"field": "f", "type": "quantitative"}, "y": {"field": "i", "type": "quantitative"}}},
     {"data": {"name": "c"}, "transform": [{"filter": "datum.n == 'n=3'"}], "mark": {"type": "point", "shape": "triangle-up", "filled": true, "size": 24, "opacity": 1, "color": "#8790d0"},
      "encoding": {"x": {"field": "f", "type": "quantitative"}, "y": {"field": "i", "type": "quantitative"}}},
     {"data": {"name": "c"}, "transform": [{"filter": "datum.n == 'n=4'"}], "mark": {"type": "point", "shape": "circle", "filled": true, "size": 24, "opacity": 1, "color": "#5cbd85"},
      "encoding": {"x": {"field": "f", "type": "quantitative"}, "y": {"field": "i", "type": "quantitative"}}},
     {"data": {"values": [{}]}, "mark": {"type": "text", "fontSize": 14, "align": "left", "color": "#222"},
      "encoding": {"x": {"datum": 51.5}, "y": {"datum": 0.94}, "text": {"value": "c"}}}
    ]
   },
   {
    "width": 215, "height": 224,
    "view": {"stroke": null},
    "layer": [
     {"data": {"name": "d"}, "mark": {"type": "line", "strokeWidth": 1.2},
      "encoding": {
       "x": {"field": "x", "type": "quantitative", "scale": {"domain": [0.6, 1.4], "nice": false, "zero": false}, "axis": {"title": "Normalized pump fluence to Pₜₕ", "values": [0.6,0.8,1.0,1.2,1.4], "tickCount": 10, "format": ".1f", "titlePadding": 3, "labelOverlap": false}},
       "y": {"field": "w", "type": "quantitative", "scale": {"type": "log", "domain": [0.19, 100], "nice": false}, "axis": {"title": "Linewidth (nm)", "values": [1,10,100], "tickCount": 10, "format": "~g", "titlePadding": 3, "labelOverlap": false}},
       "color": {"field": "n", "type": "nominal", "scale": {"domain": ["n=2","n=3","n=4"], "range": ["#e0885a","#8790d0","#5cbd85"]},
                 "legend": {"title": null, "orient": "none", "legendX": 98, "legendY": 7, "labelFontSize": 9.5, "labelColor": "#222", "symbolSize": 144, "labelOffset": 6, "rowPadding": 1,
                            "labelExpr": "datum.value == 'n=2' ? 'n=2 (Pₜₕ= 92.8 μJ/cm²)' : datum.value == 'n=3' ? 'n=3 (Pₜₕ= 75.8 μJ/cm²)' : 'n=4 (Pₜₕ= 131.0 μJ/cm²)'",
                            "encode": {"symbols": {"update": {
                              "shape": {"signal": "datum.value == 'n=2' ? 'M-1.7,0H1.7M-0.45,-0.45H0.45V0.45H-0.45Z' : datum.value == 'n=3' ? 'M-1.7,0H1.7M0,-0.55L0.5,0.38H-0.5Z' : 'M-1.7,0H1.7M-0.48,0A0.48,0.48,0,1,0,0.48,0A0.48,0.48,0,1,0,-0.48,0Z'"},
                              "fill": {"signal": "datum.value == 'n=2' ? '#e0885a' : datum.value == 'n=3' ? '#8790d0' : '#5cbd85'"},
                              "stroke": {"signal": "datum.value == 'n=2' ? '#e0885a' : datum.value == 'n=3' ? '#8790d0' : '#5cbd85'"},
                              "strokeWidth": {"value": 1.2}, "size": {"value": 144}, "opacity": {"value": 1}}}}}}
      }},
     {"data": {"name": "d"}, "transform": [{"filter": "datum.n == 'n=2'"}], "mark": {"type": "point", "shape": "square", "filled": true, "size": 24, "opacity": 1, "color": "#e0885a"},
      "encoding": {"x": {"field": "x", "type": "quantitative"}, "y": {"field": "w", "type": "quantitative"}}},
     {"data": {"name": "d"}, "transform": [{"filter": "datum.n == 'n=3'"}], "mark": {"type": "point", "shape": "triangle-up", "filled": true, "size": 26, "opacity": 1, "color": "#8790d0"},
      "encoding": {"x": {"field": "x", "type": "quantitative"}, "y": {"field": "w", "type": "quantitative"}}},
     {"data": {"name": "d"}, "transform": [{"filter": "datum.n == 'n=4'"}], "mark": {"type": "point", "shape": "circle", "filled": true, "size": 26, "opacity": 1, "color": "#5cbd85"},
      "encoding": {"x": {"field": "x", "type": "quantitative"}, "y": {"field": "w", "type": "quantitative"}}},
     {"data": {"values": [{}]}, "mark": {"type": "text", "fontSize": 14, "align": "left", "color": "#222"},
      "encoding": {"x": {"datum": 0.619}, "y": {"datum": 69}, "text": {"value": "d"}}}
    ]
   },
   {
    "spacing": 12,
    "bounds": "flush",
    "resolve": {"scale": {"color": "independent", "fill": "independent", "shape": "independent", "stroke": "independent"}},
    "vconcat": [
     {
      "width": 197, "height": 67,
      "layer": [
       {"data": {"name": "g2"}, "mark": {"type": "line", "color": "#e0875a", "strokeWidth": 1.1, "clip": true},
        "encoding": {
         "x": {"field": "x", "type": "quantitative", "scale": {"domain": [0.01, 0.08], "nice": false, "zero": false}, "axis": {"title": null, "labels": false, "domain": false, "values": [0.01,0.02,0.03,0.04,0.05,0.06,0.07,0.08], "tickCount": 20}},
         "y": {"field": "y", "type": "quantitative", "scale": {"domain": [0, 10], "nice": false}, "axis": {"title": null, "domain": false, "values": [0,2,4,6,8,10], "tickCount": 20, "format": "d", "labelFontSize": 10.5, "tickSize": 2, "labelPadding": 1, "labelOverlap": false}}
        }},
       {"data": {"name": "e2"}, "mark": {"type": "circle", "size": 42, "color": "#e2a27a", "stroke": "#c47c50", "strokeWidth": 0.6, "opacity": 1},
        "encoding": {"x": {"field": "x", "type": "quantitative"}, "y": {"field": "y", "type": "quantitative"}}},
       {"data": {"values": [{"x": 0.0795, "y": 1.1, "l": "n=2"}]}, "mark": {"type": "text", "align": "right", "fontSize": 12, "color": "#9a9a9a"},
        "encoding": {"x": {"field": "x", "type": "quantitative"}, "y": {"field": "y", "type": "quantitative"}, "text": {"field": "l"}}},
       {"data": {"values": [{}]}, "mark": {"type": "text", "fontSize": 14, "align": "left", "color": "#222"},
        "encoding": {"x": {"datum": 0.0125}, "y": {"datum": 8.0}, "text": {"value": "e"}}}
      ]
     },
     {
      "width": 197, "height": 67,
      "layer": [
       {"data": {"name": "g3"}, "mark": {"type": "line", "color": "#8088c8", "strokeWidth": 1.1, "clip": true},
        "encoding": {
         "x": {"field": "x", "type": "quantitative", "scale": {"domain": [0.01, 0.08], "nice": false, "zero": false}, "axis": {"title": null, "labels": false, "domain": false, "values": [0.01,0.02,0.03,0.04,0.05,0.06,0.07,0.08], "tickCount": 20}},
         "y": {"field": "y", "type": "quantitative", "scale": {"domain": [0, 10], "nice": false}, "axis": {"title": "Mode distance (meV)", "titlePadding": 1, "domain": false, "values": [0,2,4,6,8,10], "tickCount": 20, "format": "d", "labelFontSize": 10.5, "tickSize": 2, "labelPadding": 1, "labelOverlap": false}}
        }},
       {"data": {"name": "e3"}, "mark": {"type": "circle", "size": 42, "color": "#a2a9da", "stroke": "#7d86c4", "strokeWidth": 0.6, "opacity": 1},
        "encoding": {"x": {"field": "x", "type": "quantitative"}, "y": {"field": "y", "type": "quantitative"}}},
       {"data": {"values": [{"x": 0.0795, "y": 1.0, "l": "n=3"}]}, "mark": {"type": "text", "align": "right", "fontSize": 12, "color": "#9a9a9a"},
        "encoding": {"x": {"field": "x", "type": "quantitative"}, "y": {"field": "y", "type": "quantitative"}, "text": {"field": "l"}}}
      ]
     },
     {
      "width": 197, "height": 67,
      "layer": [
       {"data": {"name": "g4"}, "mark": {"type": "line", "color": "#5cb882", "strokeWidth": 1.1, "clip": true},
        "encoding": {
         "x": {"field": "x", "type": "quantitative", "scale": {"domain": [0.01, 0.08], "nice": false, "zero": false}, "axis": {"title": "Reciprocal length (1/μm)", "titlePadding": 2, "domain": false, "values": [0.01,0.02,0.03,0.04,0.05,0.06,0.07,0.08], "tickCount": 20, "format": ".2f", "labelFontSize": 10.5, "labelOverlap": false}},
         "y": {"field": "y", "type": "quantitative", "scale": {"domain": [0, 10], "nice": false}, "axis": {"title": null, "domain": false, "values": [0,2,4,6,8,10], "tickCount": 20, "format": "d", "labelFontSize": 10.5, "tickSize": 2, "labelPadding": 1, "labelOverlap": false}}
        }},
       {"data": {"name": "e4"}, "mark": {"type": "circle", "size": 42, "color": "#8fd0a8", "stroke": "#5db380", "strokeWidth": 0.6, "opacity": 1},
        "encoding": {"x": {"field": "x", "type": "quantitative"}, "y": {"field": "y", "type": "quantitative"}}},
       {"data": {"values": [{"x": 0.0795, "y": 0.9, "l": "n=4"}]}, "mark": {"type": "text", "align": "right", "fontSize": 12, "color": "#9a9a9a"},
        "encoding": {"x": {"field": "x", "type": "quantitative"}, "y": {"field": "y", "type": "quantitative"}, "text": {"field": "l"}}}
      ]
     }
    ]
   }
  ]
 }
]
}
